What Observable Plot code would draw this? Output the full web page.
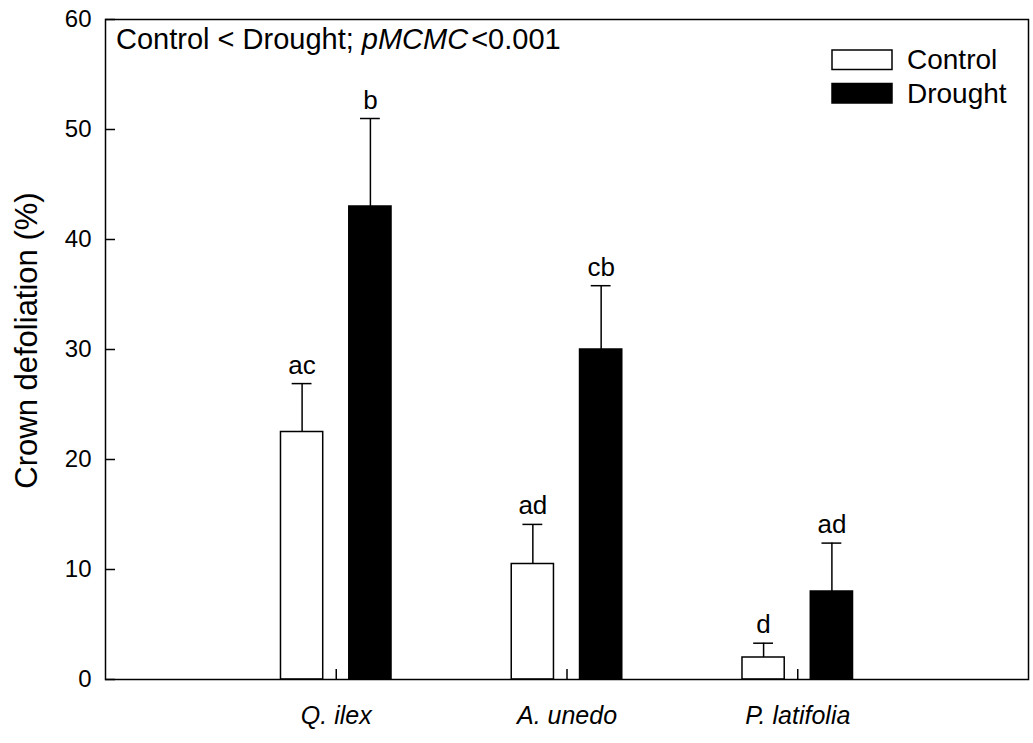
<!DOCTYPE html>
<html>
<head>
<meta charset="utf-8">
<script src="https://cdn.jsdelivr.net/npm/d3@7"></script>
<script src="https://cdn.jsdelivr.net/npm/@observablehq/plot@0.6"></script>
<style>
  html, body { margin: 0; padding: 0; background: #fff; }
  #chart { position: relative; width: 1033px; height: 743px; }
</style>
</head>
<body>
<div id="chart"></div>
<script>
// ---- data ----
const species = ["Q. ilex", "A. unedo", "P. latifolia"];
const treatments = ["Control", "Drought"];
const controlMean = [22.5, 10.5, 2.0];
const controlSE = [4.4, 3.6, 1.3];
const droughtMean = [43.0, 30.0, 8.0];
const droughtSE = [8.0, 5.8, 4.4];
const controlLetters = ["ac", "ad", "d"];
const droughtLetters = ["b", "cb", "ad"];
const yTicks = [0, 10, 20, 30, 40, 50, 60];
const yLabel = "Crown defoliation (%)";
const annotation = ["Control < Drought; ", "pMCMC", "<0.001"];

// ---- styling constants (in x-scale units of the category index) ----
const barW = 0.183, gap = 0.113, capHalf = 0.043;

const rows = [];
species.forEach((s, i) => {
  rows.push({sp: s, idx: i + 1, tr: "Control", mean: controlMean[i], se: controlSE[i], letter: controlLetters[i], side: -1});
  rows.push({sp: s, idx: i + 1, tr: "Drought", mean: droughtMean[i], se: droughtSE[i], letter: droughtLetters[i], side: 1});
});
const center = d => d.idx + d.side * (gap / 2 + barW / 2);

const font = "'Liberation Sans', Arial, sans-serif";

const chart = Plot.plot({
  width: 1033,
  height: 743,
  marginLeft: 105,
  marginRight: 5,
  marginTop: 19,
  marginBottom: 64,
  style: {fontFamily: font, color: "#000", background: "#fff"},
  x: {domain: [0, 4], axis: null},
  y: {domain: [0, 60], axis: null},
  marks: [
    Plot.rectY(rows, {
      x1: d => center(d) - barW / 2,
      x2: d => center(d) + barW / 2,
      y1: 0,
      y2: "mean",
      fill: d => d.tr === "Control" ? "#fff" : "#000",
      stroke: "#000",
      strokeWidth: 1.5
    }),
    Plot.ruleX(rows, {x: center, y1: "mean", y2: d => d.mean + d.se, stroke: "#000", strokeWidth: 1.5}),
    Plot.ruleY(rows, {y: d => d.mean + d.se, x1: d => center(d) - capHalf, x2: d => center(d) + capHalf, stroke: "#000", strokeWidth: 1.5}),
    Plot.text(rows, {x: center, y: d => d.mean + d.se, text: "letter", dy: -10, lineAnchor: "bottom", fontSize: 26, fill: "#000"}),
    Plot.axisY({ticks: yTicks, tickSize: -10, tickPadding: 24, fontSize: 24, label: null, stroke: "#000", strokeWidth: 1.5, color: "#000"}),
    Plot.axisX({ticks: [1, 2, 3], tickFormat: d => species[d - 1], tickSize: -10, tickPadding: 37, fontSize: 25, fontStyle: "italic", label: null, strokeWidth: 1.5, color: "#000"}),
    Plot.text([yLabel], {frameAnchor: "left", textAnchor: "middle", rotate: -90, dx: -78, dy: -9, fontSize: 31, fill: "#000"}),
    Plot.frame({stroke: "#000", strokeWidth: 1.5})
  ]
});

document.getElementById("chart").appendChild(chart);

// annotation text with italic part
const svg = d3.select(chart);
const t = svg.append("text")
  .attr("x", 116).attr("y", 49).attr("text-anchor", "start")
  .attr("font-size", 29).attr("font-family", font).attr("fill", "#000");
t.append("tspan").text(annotation[0]);
t.append("tspan").attr("font-style", "italic").text(annotation[1]);
t.append("tspan").attr("dx", 3).text(annotation[2]);

// legend
const lg = svg.append("g").attr("font-family", font).attr("font-size", 28).attr("text-anchor", "start");
treatments.forEach((tr, i) => {
  lg.append("rect")
    .attr("x", 832).attr("y", 50 + i * 33.5).attr("width", 60).attr("height", 19.5)
    .attr("fill", tr === "Control" ? "#fff" : "#000").attr("stroke", "#000").attr("stroke-width", 1.5);
  lg.append("text").attr("x", 907).attr("y", 69 + i * 33.5).attr("fill", "#000").text(tr);
});
</script>
</body>
</html>
